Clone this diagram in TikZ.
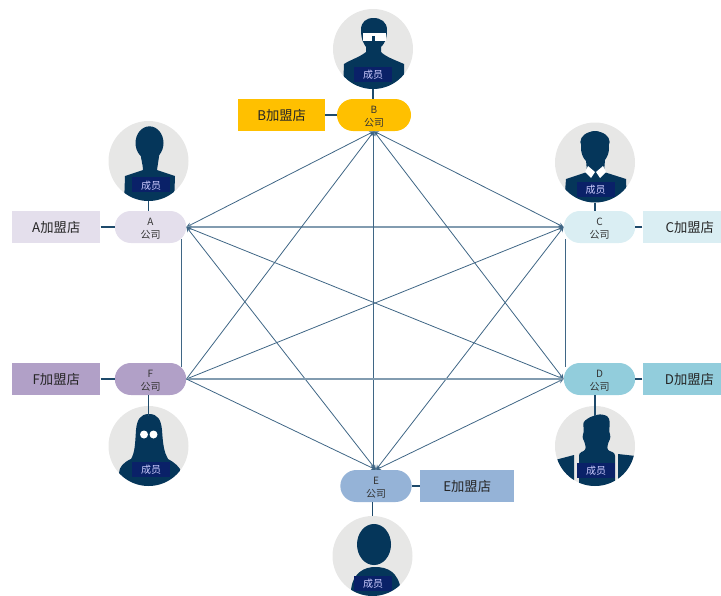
\documentclass[tikz,border=0pt]{standalone}
\usepackage{fontspec}
\setmainfont{Noto Sans CJK SC}
\usetikzlibrary{positioning}
\definecolor{darknavy}{HTML}{05365A}
\definecolor{linkblue}{HTML}{3F6685}
\definecolor{tagblue}{HTML}{0A2168}
\definecolor{facegray}{HTML}{E7E7E6}
\definecolor{colA}{HTML}{E4DFEC}
\definecolor{colB}{HTML}{FFC000}
\definecolor{colC}{HTML}{DAEEF3}
\definecolor{colD}{HTML}{92CDDC}
\definecolor{colE}{HTML}{95B3D7}
\definecolor{colF}{HTML}{B1A0C7}
\newcommand{\comptext}[1]{\rule{0pt}{7.8pt}#1\\公司}

\begin{document}
\begin{tikzpicture}[x=0.75pt,y=-0.75pt,>=stealth,
	compnode/.style={rectangle, rounded corners=12pt, minimum width=53.5pt, minimum height=24pt, inner sep=0pt, align=center, font=\fontsize{7.5}{9.5}\selectfont, text=black!80},
	shopnode/.style={rectangle, minimum width=66pt, minimum height=24pt, inner sep=0pt, text height=9.5pt, text depth=0.6pt, font=\fontsize{10}{12}\selectfont, text=black!85},
	facenode/.style={circle, fill=facegray, minimum size=60pt, inner sep=0pt},
	tagnode/.style={rectangle, fill=tagblue, minimum width=28.5pt, minimum height=11.25pt, inner sep=0pt, text height=7.6pt, text depth=0.3pt, font=\fontsize{7.5}{9}\selectfont, text=white!80!blue},
	link/.style={linkblue, line width=0.6pt},
	flatlink/.style={linkblue!65, line width=0.9pt},
	stem/.style={darknavy!90, line width=1.1pt},
	sil/.style={fill=darknavy},
	glass/.style={fill=white}]
	\useasboundingbox (0,0) rectangle (721,596);

	\node[facenode] (faceA) at (148.5,161) {};
	\node[facenode] (faceB) at (373,49) {};
	\node[facenode] (faceC) at (595,162.5) {};
	\node[facenode] (faceD) at (595,446) {};
	\node[facenode] (faceE) at (372.5,556) {};
	\node[facenode] (faceF) at (148.5,446) {};

	\begin{scope}
		\clip (faceA.center) circle (30pt);
		\fill[sil] (149.5,143) ellipse (10.5pt and 12.5pt);
		\fill[sil] (140,150) .. controls (141,160) and (143,165) .. (143,170) -- (125,176) -- (124,205) -- (174,205) -- (175,176) -- (157,170) .. controls (158,160) .. (160,150) -- cycle;
	\end{scope}
	\begin{scope}
		\clip (faceB.center) circle (30pt);
		\fill[sil] (373.5,18) .. controls (366,18) and (361,22) .. (361,30) .. controls (361,40) and (364,44) .. (366,47) -- (366,52) .. controls (360,57) and (350,60) .. (344,64) -- (343,90) -- (404,90) -- (404,64) .. controls (395,60) and (386,57) .. (381,52) -- (381,47) .. controls (384,44) and (387,40) .. (387,30) .. controls (387,22) and (381,18) .. (373.5,18) -- cycle;
		\fill[glass] (363,33) rectangle (372,41);
		\fill[glass] (375,33) rectangle (386,41);
		\fill[glass] (370,33) rectangle (377,36);
	\end{scope}
	\begin{scope}
		\clip (faceC.center) circle (30pt);
		\fill[sil] (595,148) ellipse (10.5pt and 12.75pt);
		\fill[sil] (595,142) ellipse (11pt and 8pt);
		\fill[sil] (586,160) -- (587,172) -- (566,179) -- (564,205) -- (627,205) -- (626,179) -- (604,172) -- (605,160) -- cycle;
		\fill[glass] (588,166) -- (595,172) -- (591,178) -- (585,172) -- cycle;
		\fill[glass] (603,166) -- (596,172) -- (600,178) -- (606,172) -- cycle;
	\end{scope}
	\begin{scope}
		\clip (faceD.center) circle (30pt);
		\fill[sil, rounded corners=2pt] (590,417) -- (600,414) -- (608,416) -- (610,422) -- (609,432) -- (611,437) -- (608,443) -- (607,450) -- (615,453) -- (615,490) -- (579,490) -- (579,453) -- (586,450) -- (585,443) -- (582,437) -- (584,432) -- (583,422) -- cycle;
		\fill[sil] (555,460) -- (574,455) -- (574,490) -- (555,490) -- cycle;
		\fill[sil] (618,454) -- (636,456) -- (636,490) -- (618,490) -- cycle;
	\end{scope}
	\begin{scope}
		\clip (faceE.center) circle (30pt);
		\fill[sil] (374,544.5) ellipse (12.75pt and 15.4pt);
		\fill[sil] (351,590) .. controls (353,572) and (365,567) .. (375,567) .. controls (388,567) and (398,572) .. (401,590) -- (401,600) -- (351,600) -- cycle;
	\end{scope}
	\begin{scope}
		\clip (faceF.center) circle (30pt);
		\fill[sil] (149,414) .. controls (140,414) and (137,420) .. (136,430) .. controls (135,445) and (135,452) .. (131,459) .. controls (124,462) and (119,467) .. (119,473) -- (119,490) -- (182,490) -- (182,473) .. controls (180,467) and (174,462) .. (168,459) .. controls (164,452) and (163,445) .. (162,430) .. controls (161,420) and (158,414) .. (149,414) -- cycle;
		\fill[glass] (144,434.5) circle (3pt);
		\fill[glass] (153.5,434.5) circle (3pt);
	\end{scope}

	\node[tagnode] (tagA) at (151,184.5) {成员};
	\node[tagnode] (tagB) at (373,74) {成员};
	\node[tagnode] (tagC) at (595.5,189) {成员};
	\node[tagnode] (tagD) at (596,470) {成员};
	\node[tagnode] (tagE) at (373,583) {成员};
	\node[tagnode] (tagF) at (151,469) {成员};

	\node[compnode, fill=colA] (compA) at (150.5,227) {\comptext{A}};
	\node[compnode, fill=colB, minimum width=55.5pt] (compB) at (374,115) {\comptext{B}};
	\node[compnode, fill=colC] (compC) at (599.5,227) {\comptext{C}};
	\node[compnode, fill=colD] (compD) at (599.5,379) {\comptext{D}};
	\node[compnode, fill=colE] (compE) at (376,486) {\comptext{E}};
	\node[compnode, fill=colF] (compF) at (150.5,379) {\comptext{F}};

	\node[shopnode, fill=colA] (shopA) [left = 10.5pt of compA] {A加盟店};
	\node[shopnode, fill=colB, minimum width=65.25pt] (shopB) [left = 8.5pt of compB] {B加盟店};
	\node[shopnode, fill=colC, minimum width=58.5pt, text width=48.5pt, align=right] (shopC) [right = 5.25pt of compC] {C加盟店};
	\node[shopnode, fill=colD, minimum width=58.5pt, text width=48.5pt, align=right] (shopD) [right = 5.25pt of compD] {D加盟店};
	\node[shopnode, fill=colE, minimum width=70.5pt] (shopE) [right = 6pt of compE] {E加盟店};
	\node[shopnode, fill=colF] (shopF) [left = 10.5pt of compF] {F加盟店};

	\draw[stem] (shopA.east) -- (compA.west);
	\draw[stem] (shopB.east) -- (compB.west);
	\draw[stem] (shopC.west) -- (compC.east);
	\draw[stem] (shopD.west) -- (compD.east);
	\draw[stem] (shopE.west) -- (compE.east);
	\draw[stem] (shopF.east) -- (compF.west);
	\draw[stem] (faceA.south) -- (faceA.south |- compA.north);
	\draw[stem] (faceB.south) -- (faceB.south |- compB.north);
	\draw[stem] (faceC.south) -- (faceC.south |- compC.north);
	\draw[stem] ([yshift=-7.5pt]faceD.north) -- (faceD.north |- compD.south);
	\draw[stem] (faceE.north) -- (faceE.north |- compE.south);
	\draw[stem] ([yshift=-7.5pt]faceF.north) -- (faceF.north |- compF.south);

	\draw[link,<->] (compA.east) -- (compB.south);
	\draw[flatlink,<->] (compA.east) -- (compC.west);
	\draw[link,<->] (compA.east) -- (compD.west);
	\draw[link,<->] (compA.east) -- (compE.north);
	\draw[link] ([shift={(-3.5pt,3pt)}]compA.south east) -- ([shift={(-3.5pt,-3pt)}]compF.north east);
	\draw[link,<->] (compB.south) -- (compC.west);
	\draw[link,<->] (compB.south) -- (compD.west);
	\draw[link,<->] ([xshift=-0.75pt]compB.south) -- ([xshift=-0.75pt]compB.south |- compE.north);
	\draw[link,<-] (compB.south) -- (compF.east);
	\draw[link] ([shift={(1.5pt,3pt)}]compC.south west) -- ([shift={(1.5pt,-3pt)}]compD.north west);
	\draw[link,<->] (compC.west) -- (compE.north);
	\draw[link,<-] (compC.west) -- (compF.east);
	\draw[link,<->] (compD.west) -- (compE.north);
	\draw[flatlink,<-] (compD.west) -- (compF.east);
	\draw[link,->] (compF.east) -- (compE.north);
\end{tikzpicture}
\end{document}
